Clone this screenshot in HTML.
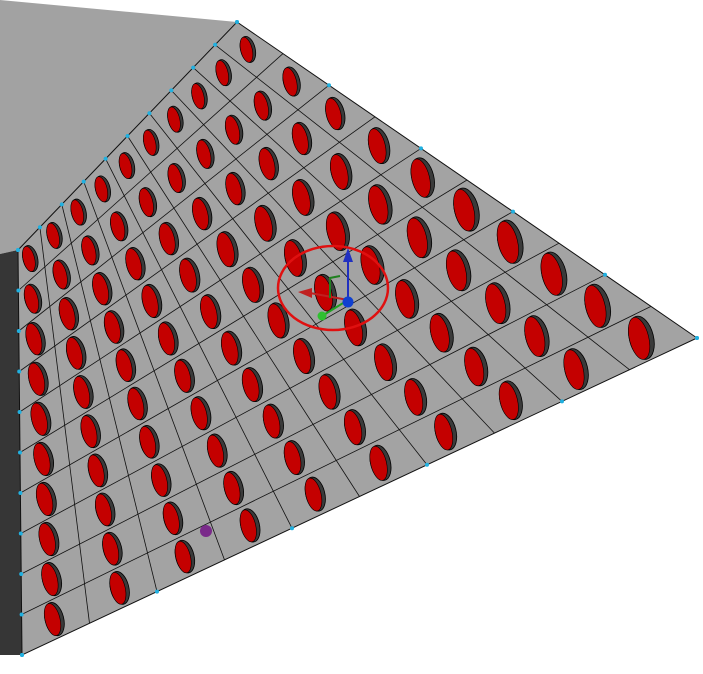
<!DOCTYPE html>
<html>
<head>
<meta charset="utf-8">
<style>
html,body{margin:0;padding:0;background:#fff;width:703px;height:674px;overflow:hidden;}
svg{display:block;font-family:"Liberation Sans",sans-serif;}
</style>
</head>
<body>
<svg id="scene" width="703" height="674" viewBox="0 0 703 674" xmlns="http://www.w3.org/2000/svg">
  <polygon points="0,0 237,22 18,250 0,254" fill="#a2a2a2"/>
  <polygon points="0,254 18,250 22,655 0,655" fill="#363636"/>
  <g id="mesh"></g>
  <g id="dots"></g>
  <g>
    <ellipse cx="333" cy="288" rx="55" ry="42" fill="none" stroke="#e01010" stroke-width="2.5"/>
    <line x1="348" y1="300" x2="348" y2="258" stroke="#2030c0" stroke-width="2"/>
    <polygon points="343,262 353,262 348,248" fill="#2030c0"/>
    <line x1="348" y1="300" x2="310" y2="293" stroke="#c02020" stroke-width="2"/>
    <polygon points="312,288 312,298 298,292" fill="#c02020"/>
    <line x1="348" y1="300" x2="322" y2="316" stroke="#20a020" stroke-width="2"/>
    <circle cx="322" cy="316" r="4.5" fill="#30c030"/>
    <path d="M330,298 L330,278 L340,276" fill="none" stroke="#208020" stroke-width="2"/>
    <circle cx="348" cy="302" r="5.5" fill="#1040d0"/>
  </g>
  <circle cx="206" cy="531" r="6" fill="#7a2a8a"/>
</svg>
<script>
// Mesh geometry data
const corners = [[18,250],[237,22],[697,338],[22,655]];
const uDivisions = [10];
const vDivisions = [10];

const NS = "http://www.w3.org/2000/svg";
const mesh = document.getElementById('mesh');
const dots = document.getElementById('dots');
const NU = uDivisions[0], NV = vDivisions[0];
function P(u,v){
  const [A,B,C,D]=corners;
  const x=(1-u)*(1-v)*A[0]+u*(1-v)*B[0]+u*v*C[0]+(1-u)*v*D[0];
  const y=(1-u)*(1-v)*A[1]+u*(1-v)*B[1]+u*v*C[1]+(1-u)*v*D[1];
  return [x,y];
}
function mk(tag,attrs){const e=document.createElementNS(NS,tag);for(const k in attrs)e.setAttribute(k,attrs[k]);return e;}

const face = mk('polygon',{points:corners.map(p=>p.join(',')).join(' '),fill:'#a3a3a3',stroke:'#111','stroke-width':1});


mesh.appendChild(face);

for(let i=0;i<NU;i++){
  for(let j=0;j<NV;j++){
    const c=P((i+0.5)/NU,(j+0.5)/NV);
    const a=P(i/NU,j/NV), b=P((i+1)/NU,j/NV), d=P(i/NU,(j+1)/NV);
    const w=Math.hypot(b[0]-a[0],b[1]-a[1]);
    const h=Math.hypot(d[0]-a[0],d[1]-a[1]);
    const s=Math.min(w,h);
    const rx=s*0.23, ry=s*0.42;
    const g=mk('g',{transform:`translate(${c[0].toFixed(1)},${c[1].toFixed(1)}) rotate(-14)`});
    
    
    g.appendChild(mk('ellipse',{cx:0,cy:0,rx:rx.toFixed(1),ry:ry.toFixed(1),fill:'#3a3a3a',stroke:'#000','stroke-width':0.8}));
    g.appendChild(mk('ellipse',{cx:(-rx*0.2).toFixed(1),cy:0,rx:(rx*0.8).toFixed(1),ry:(ry*0.97).toFixed(1),fill:'#c40000',stroke:'#000','stroke-width':0.6}));
    mesh.appendChild(g);
  }
}
for(let i=1;i<NU;i++){
  const p=P(i/NU,0),q=P(i/NU,1);
  const l=mk('line',{x1:p[0],y1:p[1],x2:q[0],y2:q[1],stroke:'#111','stroke-width':0.8});
  
  
  mesh.appendChild(l);
}
for(let j=1;j<NV;j++){
  const p=P(0,j/NV),q=P(1,j/NV);
  const l=mk('line',{x1:p[0],y1:p[1],x2:q[0],y2:q[1],stroke:'#111','stroke-width':0.8});
  
  
  mesh.appendChild(l);
}
function dot(p){
  const c=mk('circle',{cx:p[0],cy:p[1],r:2,fill:'#20b0e0'});
  
  
  dots.appendChild(c);
}
for(let j=0;j<=NV;j++){dot(P(0,j/NV));}
for(let i=0;i<=NU;i++){dot(P(i/NU,0));}
for(let j=0;j<=NV;j+=2){dot(P(1,j/NV));}
for(let i=0;i<=NU;i+=2){dot(P(i/NU,1));}
</script>
</body>
</html>
